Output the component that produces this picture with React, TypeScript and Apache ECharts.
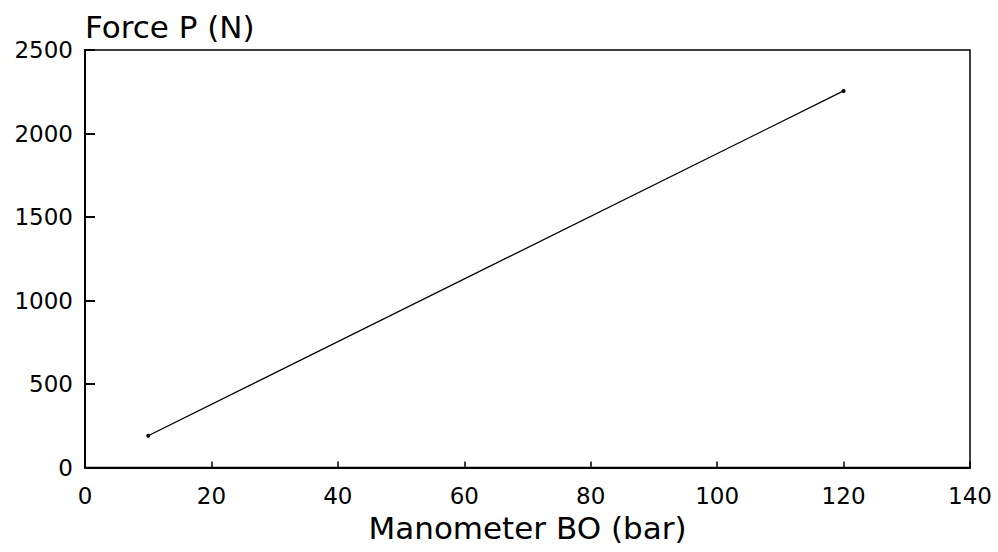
import React, { useEffect, useRef } from "react";
import * as echarts from "echarts";

const pressureBar = [10, 120];
const forceN = [190, 2255];
const xTicks = [0, 20, 40, 60, 80, 100, 120, 140];
const yTicks = [0, 500, 1000, 1500, 2000, 2500];
const xName = "Manometer BO (bar)";
const yName = "Force P (N)";

export default function App() {
  const ref = useRef<HTMLDivElement>(null);
  useEffect(() => {
    if (!ref.current) return;
    const chart = echarts.init(ref.current, undefined, { renderer: "svg" });
    const font = "DejaVu Sans";
    chart.setOption({
      animation: false,
      backgroundColor: "#ffffff",
      grid: {
        left: 85,
        right: 28,
        top: 50,
        bottom: 84.5,
        show: true,
        borderColor: "#000",
        borderWidth: 1.5,
      },
      xAxis: {
        type: "value",
        min: xTicks[0],
        max: xTicks[xTicks.length - 1],
        interval: 20,
        name: xName,
        nameLocation: "middle",
        nameGap: 45,
        nameTextStyle: { fontFamily: font, fontSize: 31, color: "#000" },
        axisLine: { show: true, lineStyle: { color: "#000", width: 2 } },
        axisTick: { show: true, inside: true, length: 6, lineStyle: { color: "#000", width: 1.5 } },
        axisLabel: {
          fontFamily: font,
          fontSize: 23,
          color: "#000",
          margin: 17,
          formatter: (v: number) => String(v),
        },
        splitLine: { show: false },
      },
      yAxis: {
        type: "value",
        min: yTicks[0],
        max: yTicks[yTicks.length - 1],
        interval: 500,
        name: yName,
        nameLocation: "end",
        nameGap: 8,
        nameTextStyle: { fontFamily: font, fontSize: 31, color: "#000", align: "left" },
        axisLine: { show: true, onZero: false, lineStyle: { color: "#000", width: 2 } },
        axisTick: { show: true, inside: true, length: 10, lineStyle: { color: "#000", width: 2 } },
        axisLabel: {
          fontFamily: font,
          fontSize: 23,
          color: "#000",
          margin: 12,
          formatter: (v: number) => String(v),
        },
        splitLine: { show: false },
      },
      series: [
        {
          type: "line",
          data: pressureBar.map((x, i) => [x, forceN[i]]),
          symbol: "circle",
          symbolSize: 4,
          itemStyle: { color: "#000" },
          lineStyle: { color: "#000", width: 1.3 },
        },
      ],
    });
    return () => chart.dispose();
  }, []);
  return (
    <div
      ref={ref}
      style={{ position: "fixed", left: 0, top: 0, width: 998, height: 552 }}
    />
  );
}
